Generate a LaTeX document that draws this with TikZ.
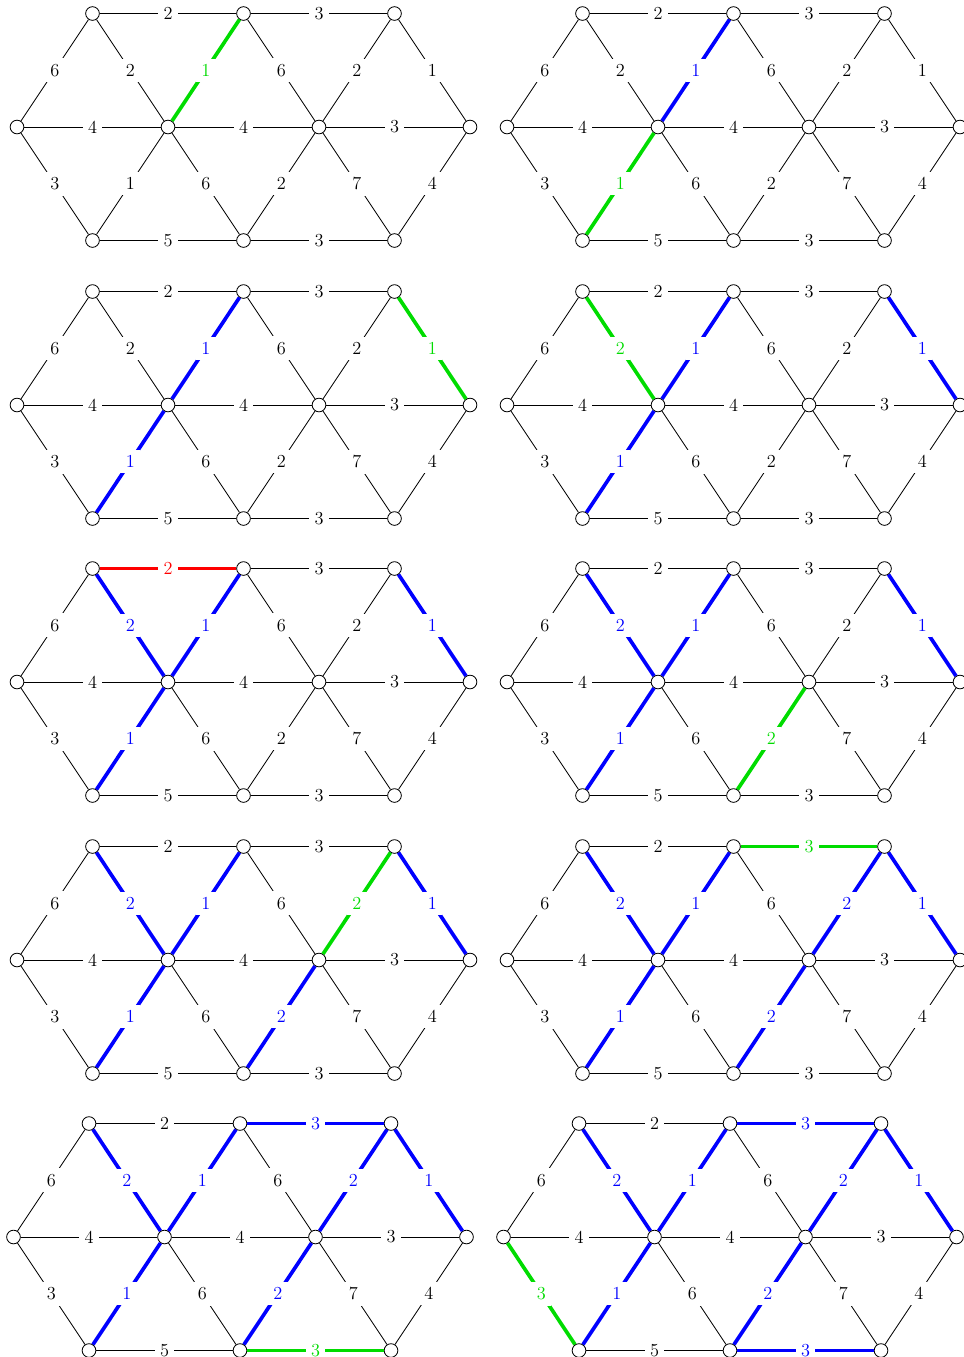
\documentclass[tikz,border=0pt]{standalone}
\usepackage{amsmath}

\definecolor{candgreen}{RGB}{0,220,0}

\tikzset{
    vtx/.style={circle, draw, fill=white, inner sep=0pt, minimum size=8.2pt, line width=0.5pt},
    wt/.style={fill=white, inner sep=3.3pt, font=\fontsize{11pt}{13pt}\selectfont},
    plain/.style={black, line width=0.5pt},
    done/.style={blue, line width=2.2pt},
    trying/.style={candgreen, line width=2.2pt},
    rejected/.style={red, line width=2.2pt},
}

% one panel: #1 step, #2/#3 offset in pixels
\newcommand{\kgraph}[3]{%
    \begin{scope}[shift={(17+#2,127+#3)}]
    \begin{scope}[x=45.3pt, y=68.1pt]
        \node[vtx] (s#1-T1) at (1,1) {};
        \node[vtx] (s#1-T2) at (3,1) {};
        \node[vtx] (s#1-T3) at (5,1) {};
        \node[vtx] (s#1-M1) at (0,0) {};
        \node[vtx] (s#1-M2) at (2,0) {};
        \node[vtx] (s#1-M3) at (4,0) {};
        \node[vtx] (s#1-M4) at (6,0) {};
        \node[vtx] (s#1-B1) at (1,-1) {};
        \node[vtx] (s#1-B2) at (3,-1) {};
        \node[vtx] (s#1-B3) at (5,-1) {};

        \foreach \a/\b/\w in {T1/T2/2, T2/T3/3, M1/M2/4, M2/M3/4, M3/M4/3, B1/B2/5, B2/B3/3,
                M1/T1/6, T1/M2/2, M2/T2/1, T2/M3/6, M3/T3/2, T3/M4/1,
                M1/B1/3, B1/M2/1, M2/B2/6, B2/M3/2, M3/B3/7, B3/M4/4}
            \draw[plain] (s#1-\a) -- node[wt] {\w} (s#1-\b);
    \end{scope}
    \end{scope}}

\begin{document}
\begin{tikzpicture}[x=0.6pt, y=-0.6pt]
    \useasboundingbox (0,0) rectangle (963,1357);

    \foreach \k/\x/\y in {1/0/0, 2/490/0, 3/0/278, 4/490/278, 5/0/555,
            6/490/555, 7/0/833, 8/490/833, 9/-3.5/1110, 10/486.5/1110}
        \kgraph{\k}{\x}{\y};

    % step, edge, weight, accepted?
    \foreach \i/\a/\b/\w/\ok in {1/T2/M2/1/1, 2/B1/M2/1/1, 3/T3/M4/1/1, 4/T1/M2/2/1,
            5/T1/T2/2/0, 6/M3/B2/2/1, 7/T3/M3/2/1, 8/T2/T3/3/1, 9/B2/B3/3/1, 10/M1/B1/3/1}
    {
        \ifnum\ok=1 \def\sty{trying}\else\def\sty{rejected}\fi
        \draw[\sty] (s\i-\a) -- node[wt] {\w} (s\i-\b);
        \ifnum\ok=1
            \foreach \k in {\i,...,10} {
                \ifnum\k>\i
                    \draw[done] (s\k-\a) -- node[wt] {\w} (s\k-\b);
                \fi
            }
        \fi
    }
\end{tikzpicture}
\end{document}
